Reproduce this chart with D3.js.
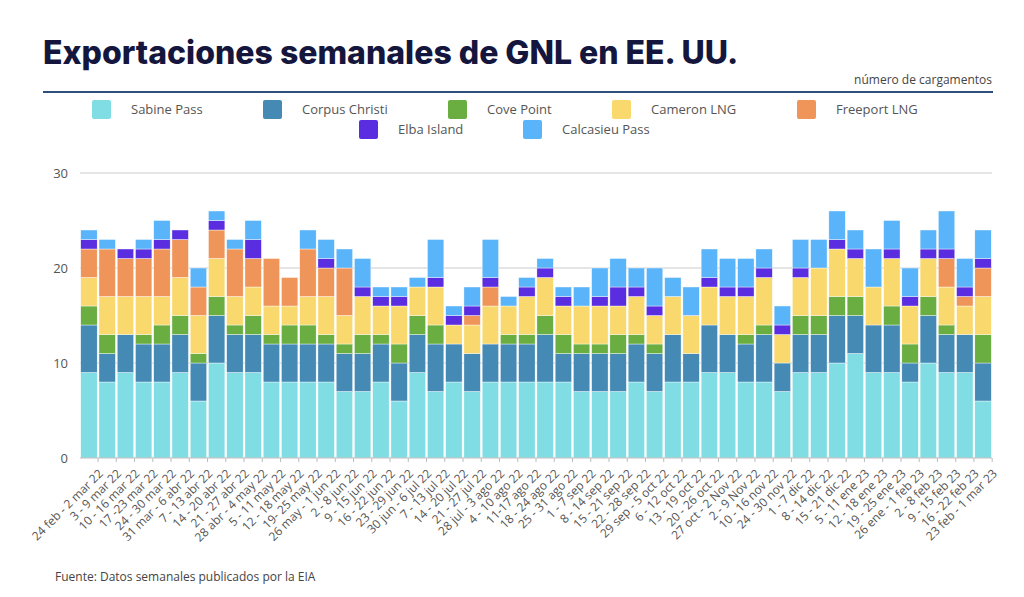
<!DOCTYPE html>
<html><head><meta charset="utf-8">
<script src="https://cdn.jsdelivr.net/npm/d3@7"></script>
<style>body{margin:0;background:#fff;font-family:"Open Sans",sans-serif}</style>
</head><body><svg id="c" width="1024" height="597"></svg>
<script>
const categories=["24 feb - 2 mar 22","3 - 9 mar 22","10 - 16 mar 22","17 -23 mar 22","24 - 30 mar 22","31 mar - 6 abr 22","7 - 13 abr 22","14 - 20 abr 22","21 - 27 abr 22","28 abr - 4 may 22","5 - 11 may 22","12 - 18 may 22","19- 25 may 22","26 may - 1 jun 22","2 - 8 jun 22","9 - 15 jun 22","16 - 22 jun 22","23 - 29 jun 22","30 jun - 6 jul 22","7 - 13 jul 22","14 - 20 jul 22","21 - 27 jul 22","28 jul - 3 ago 22","4 - 10 ago 22","11-17 ago 22","18 - 24 ago 22","25 - 31 ago 22","1 - 7 sep 22","8 - 14 sep 22","15 - 21 sep 22","22 - 28 sep 22","29 sep - 5 oct 22","6 - 12 oct 22","13 - 19 oct 22","20 - 26 oct 22","27 oct - 2 Nov 22","2 - 9 Nov 22","10 - 16 nov 22","24 - 30 nov 22","1 - 7 dic 22","8 - 14 dic 22","15 - 21 dic 22","5 - 11 ene 23","12 - 18 ene 23","19 - 25 ene 23","26 ene - 1 feb 23","2 - 8 feb 23","9 - 15 feb 23","16 - 22 feb 23","23 feb - 1 mar 23"];
const seriesNames=["Sabine Pass","Corpus Christi","Cove Point","Cameron LNG","Freeport LNG","Elba Island","Calcasieu Pass"];
const seriesColors=["#80dde3","#4589b5","#6aad40","#f9d96e","#f0955a","#5a2ee0","#5ab4f9"];
const sabine=[9,8,9,8,8,9,6,10,9,9,8,8,8,8,7,7,8,6,9,7,8,7,8,8,8,8,8,7,7,7,8,7,8,8,9,9,8,8,7,9,9,10,11,9,9,8,10,9,9,6];
const corpus=[5,3,4,4,4,4,4,5,4,4,4,4,4,4,4,4,4,4,4,5,4,4,4,4,4,5,3,4,4,4,4,4,5,3,5,4,4,5,3,4,4,5,4,5,5,2,5,4,4,4];
const cove=[2,2,0,1,2,2,1,2,1,2,1,2,2,1,1,2,1,2,2,2,0,0,0,1,1,2,2,1,1,2,1,1,0,0,0,0,1,1,0,2,2,2,2,0,2,2,2,1,0,3];
const cameron=[3,4,4,4,3,4,4,4,3,3,3,2,3,4,3,4,3,4,3,4,2,3,4,3,4,4,3,4,4,3,4,3,4,4,4,4,4,5,3,4,5,5,4,4,5,4,4,4,3,4];
const freeport=[3,5,4,4,5,4,3,3,5,3,5,3,5,3,5,0,0,0,0,0,0,1,2,0,0,0,0,0,0,0,0,0,0,0,0,0,0,0,0,0,0,0,0,0,0,0,0,3,1,3];
const elba=[1,0,1,1,1,1,0,1,0,2,0,0,0,1,0,1,1,1,0,1,1,1,1,0,1,1,1,0,1,2,1,1,0,0,1,1,1,1,1,1,0,1,1,0,1,1,1,1,1,1];
const calcasieu=[1,1,0,1,2,0,2,1,1,2,0,0,2,2,2,3,1,1,1,4,1,2,4,1,1,1,1,2,3,3,2,4,2,3,3,3,3,2,2,3,3,3,2,4,3,3,2,4,3,3];
const yTicks=[0,10,20,30];

const seriesData=[sabine,corpus,cove,cameron,freeport,elba,calcasieu];
const rows=categories.map((c,i)=>{const o={cat:c};seriesNames.forEach((s,j)=>o[s]=seriesData[j][i]);return o;});
const stack=d3.stack().keys(seriesNames)(rows);
const svg=d3.select("#c");
const m={l:80,r:992,t:173,b:458};
const x=d3.scaleBand().domain(categories).range([m.l,m.r]).paddingInner(0.1).paddingOuter(0.04);
const y=d3.scaleLinear().domain([0,30]).range([m.b,m.t]);
const color=d3.scaleOrdinal().domain(seriesNames).range(seriesColors);

svg.append("text").attr("x",43).attr("y",64).attr("font-family","Inter, sans-serif").attr("font-weight",800).attr("font-size",32).attr("fill","#14163d").text("Exportaciones semanales de GNL en EE. UU.");
svg.append("text").attr("x",992).attr("y",84).attr("text-anchor","end").attr("font-size",12).attr("fill","#444").text("número de cargamentos");
svg.append("line").attr("x1",43).attr("x2",993).attr("y1",92).attr("y2",92).attr("stroke","#2d4f7c").attr("stroke-width",2);

const legPos=[[92,109],[263,109],[448,109],[612,109],[797,109],[359,129],[523,129]];
seriesNames.forEach((s,i)=>{
  const [lx,ly]=legPos[i];
  svg.append("rect").attr("x",lx).attr("y",ly-9).attr("width",19).attr("height",19).attr("rx",2).attr("fill",seriesColors[i]);
  svg.append("text").attr("x",lx+39).attr("y",ly+5).attr("font-size",13).attr("fill","#555").text(s);
});

svg.append("g").selectAll("line").data(yTicks.slice(1)).join("line")
 .attr("x1",m.l).attr("x2",m.r).attr("y1",d=>y(d)).attr("y2",d=>y(d)).attr("stroke","#ccc").attr("stroke-width",1.2);
svg.append("g").selectAll("text").data(yTicks).join("text")
 .attr("x",68).attr("y",d=>y(d)+5).attr("text-anchor","end").attr("font-size",13).attr("fill","#555").text(d=>d);

svg.append("g").selectAll("g").data(stack).join("g").attr("fill",d=>color(d.key))
 .selectAll("rect").data(d=>d.filter(p=>p[1]>p[0])).join("rect")
 .attr("x",d=>x(d.data.cat)).attr("width",x.bandwidth())
 .attr("y",d=>y(d[1])).attr("height",d=>y(d[0])-y(d[1]))
 .attr("stroke","#fff").attr("stroke-width",0.4);

svg.append("line").attr("x1",m.l).attr("x2",m.r).attr("y1",m.b).attr("y2",m.b).attr("stroke","#bbb");
const xa=svg.append("g").attr("transform",`translate(0,${m.b})`).call(d3.axisBottom(x).tickSize(4).tickSizeOuter(0));
xa.select(".domain").remove();
xa.selectAll("line").attr("stroke","#bbb").attr("transform",`translate(${x.step()/2},0)`);
xa.selectAll("text").attr("font-family","Open Sans, sans-serif").attr("font-size",12).attr("fill","#555")
 .attr("text-anchor","end").attr("transform","translate(4,2) rotate(-45)").attr("dy","0.9em").attr("dx","-0.2em");

svg.append("text").attr("x",55).attr("y",581).attr("font-size",12).attr("fill","#444").text("Fuente: Datos semanales publicados por la EIA");
</script></body></html>
